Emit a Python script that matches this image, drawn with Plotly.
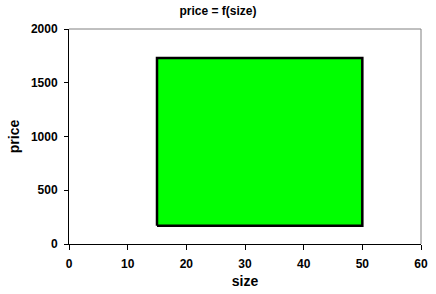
import plotly.graph_objects as go

# data
rect_x = [15, 50, 50, 15, 15]
rect_y = [170, 170, 1730, 1730, 170]
x_ticks = [0, 10, 20, 30, 40, 50, 60]
y_ticks = [0, 500, 1000, 1500, 2000]

font = dict(family="Liberation Sans, Arial, sans-serif", size=12, color="black")

fig = go.Figure()
fig.add_trace(go.Scatter(x=rect_x, y=rect_y, mode="lines", fill="toself",
                         fillcolor="#00ff00", line=dict(color="black", width=2.5),
                         hoverinfo="skip", showlegend=False))

fig.update_layout(
    width=436, height=294,
    margin=dict(l=69, r=15, t=29, b=50, autoexpand=False),
    paper_bgcolor="white", plot_bgcolor="white",
    font=font,
    title=dict(text="<b>price = f(size)</b>", x=0.5, xanchor="center",
               y=1 - 11/294, yanchor="middle", font=dict(size=12), automargin=False),
    xaxis=dict(range=[0, 60], tickvals=x_ticks, ticktext=[f"<b>{v}</b>" for v in x_ticks],
               showgrid=False, zeroline=False, showline=True, linecolor="black", linewidth=1,
               ticks="outside", ticklen=5, tickcolor="black", tickwidth=1,
               ticklabelstandoff=4, automargin=False,
               title=dict(text="<b>size</b>", standoff=5), fixedrange=True),
    yaxis=dict(range=[0, 2000], tickvals=y_ticks, ticktext=[f"<b>{v}</b>" for v in y_ticks],
               showgrid=False, zeroline=False, showline=True, linecolor="black", linewidth=1,
               ticks="outside", ticklen=4, tickcolor="black", tickwidth=1,
               ticklabelstandoff=4, automargin=False,
               title=dict(text="<b>price</b>", standoff=7), fixedrange=True),
    shapes=[
        dict(type="line", xref="paper", yref="paper", x0=0, x1=1, y0=1, y1=1,
             line=dict(color="#808080", width=1), layer="below"),
        dict(type="line", xref="paper", yref="paper", x0=1, x1=1, y0=0, y1=1,
             line=dict(color="#808080", width=1), layer="below"),
    ],
)

fig.write_html("out.html")
